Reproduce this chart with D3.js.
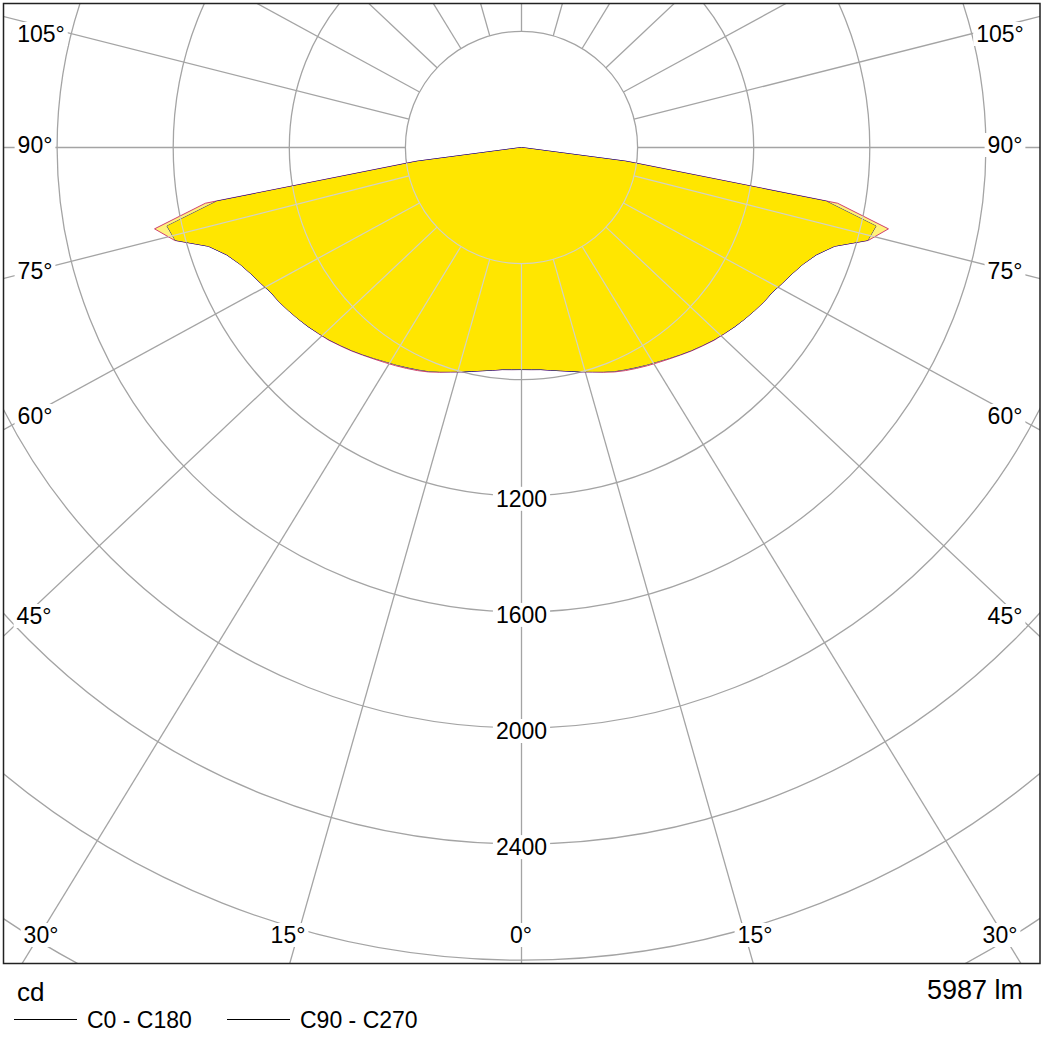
<!DOCTYPE html>
<html><head><meta charset="utf-8">
<script src="https://cdn.jsdelivr.net/npm/d3@7"></script>
<style>body{margin:0;background:#fff} svg text{font-family:"Liberation Sans",Arial,Helvetica,sans-serif;fill:#000}</style>
</head><body><svg id="c" width="1044" height="1038"></svg>
<script>
// ---- data ----
const gammaAngles = [0,2.5,5,7.5,10,12.5,15,17.5,20,22.5,25,27.5,30,32.5,35,37.5,40,42.5,45,47.5,50,52.5,55,57.5,60,62.5,65,67.5,70,72.5,75,77.5,80,82.5,85,87.5,90];
const c0c180  = [765,766,768,774,781,790,800,811,824,837,848,858,868,878,889,901,914,926,939,949,960,970,980,990,998,1013,1029,1050,1081,1131,1237,1295,1106,371,0,0,0];
const c90c270 = [765,766,768,774,781,790,800,810,822,834,844,854,864,874,886,899,912,924,937,948,960,970,980,990,998,1013,1029,1050,1081,1131,1235,1251,1066,361,0,0,0];
const ringValues = [400,800,1200,1600,2000,2400,2800,3200,3600];
const ringLabels = [1200,1600,2000,2400];
const spokeAngles = d3.range(0,360,15);
const angleLabels = ["105°","90°","75°","60°","45°","30°","15°","0°","15°","30°","45°","60°","75°","90°","105°"];
const seriesNames = ["C0 - C180","C90 - C270"];
const unitLabel = "cd";
const fluxLabel = "5987 lm";

// ---- layout ----
const W=1044, H=1038;
const cx=521.5, cy=147.5;
const frame={x0:3.5,y0:3.5,x1:1040,y1:963.5};
const spokeAspect=1.06;
const labelPos=[[41,34],[35,145],[35,271],[35,416],[34,616],[41,935],[288,935],[521,935],[755,935],[1000,935],[1005,616],[1005,416],[1005,271],[1005,145],[1000,34]];

const svg=d3.select("#c");
const r=d3.scaleLinear().domain([0,400]).range([0,116.1]);

svg.append("defs").append("clipPath").attr("id","fr").append("rect")
  .attr("x",frame.x0).attr("y",frame.y0).attr("width",frame.x1-frame.x0).attr("height",frame.y1-frame.y0);

const toPts = vals => {
  const left = gammaAngles.map((g,i)=>({a:Math.PI+g*Math.PI/180, v:vals[i]})).reverse();
  const right = gammaAngles.map((g,i)=>({a:Math.PI-g*Math.PI/180, v:vals[i]}));
  return left.concat(right.slice(1));
};
const radial=d3.lineRadial().angle(d=>d.a).radius(d=>r(d.v)).curve(d3.curveLinearClosed);
const pA=radial(toPts(c0c180)), pB=radial(toPts(c90c270));

const defs=svg.select("defs");
defs.append("clipPath").attr("id","clipB").append("path").attr("d",pB).attr("transform",`translate(${cx},${cy})`);
const uni=defs.append("clipPath").attr("id","clipU");
uni.append("path").attr("d",pA).attr("transform",`translate(${cx},${cy})`);
uni.append("path").attr("d",pB).attr("transform",`translate(${cx},${cy})`);

function drawGrid(g,color,w){
  g.selectAll("circle").data(ringValues).join("circle")
    .attr("cx",cx).attr("cy",cy).attr("r",d=>r(d)).attr("fill","none").attr("stroke",color).attr("stroke-width",w);
  g.selectAll("line").data(spokeAngles).join("line")
    .each(function(s){
      const t=s*Math.PI/180;
      let dx=spokeAspect*Math.sin(t), dy=Math.cos(t);
      const n=Math.hypot(dx,dy); dx/=n; dy/=n;
      d3.select(this).attr("x1",cx+dx*r(400)).attr("y1",cy+dy*r(400))
        .attr("x2",cx+dx*1600).attr("y2",cy+dy*1600);
    })
    .attr("stroke",color).attr("stroke-width",w);
}
const gGrid=svg.append("g").attr("clip-path","url(#fr)");
drawGrid(gGrid,"#a4a4a4",1.3);

const gCurve=svg.append("g").attr("transform",`translate(${cx},${cy})`);
gCurve.append("path").attr("d",pA).attr("fill","#fff27a");
gCurve.append("path").attr("d",pB).attr("fill","#fff27a");
svg.append("g").attr("clip-path","url(#clipB)").append("path").attr("d",pA)
  .attr("transform",`translate(${cx},${cy})`).attr("fill","#ffe600");

const gOver=svg.append("g").attr("clip-path","url(#clipU)");
drawGrid(gOver,"#d2d2c4",1.2);

gCurve.append("path").attr("d",pA).attr("fill","none").attr("stroke","#d04070").attr("stroke-width",1);
gCurve.append("path").attr("d",pB).attr("fill","none").attr("stroke","#202090").attr("stroke-width",1);

// labels with white background
function label(txt,x,y,size){
  const g=svg.append("g");
  const t=g.append("text").attr("x",x).attr("y",y).attr("text-anchor","middle").attr("font-size",size).text(txt);
  const b=t.node().getBBox();
  g.insert("rect","text").attr("x",b.x-3).attr("y",b.y+1).attr("width",b.width+6).attr("height",b.height-2).attr("fill","#fff");
}
ringLabels.forEach(v=>label(String(v),cx,cy+r(v)+11,23));
angleLabels.forEach((t,i)=>label(t,labelPos[i][0],labelPos[i][1]+8,23));

svg.append("rect").attr("x",frame.x0).attr("y",frame.y0).attr("width",frame.x1-frame.x0).attr("height",frame.y1-frame.y0)
  .attr("fill","none").attr("stroke","#222").attr("stroke-width",1.5);

svg.append("text").attr("x",17).attr("y",1001).attr("font-size",26).text(unitLabel);
svg.append("text").attr("x",1023).attr("y",999).attr("font-size",27).attr("text-anchor","end").text(fluxLabel);
const legX=[14,227];
seriesNames.forEach((n,i)=>{
  svg.append("line").attr("x1",legX[i]).attr("x2",legX[i]+63).attr("y1",1019.5).attr("y2",1019.5).attr("stroke","#000").attr("stroke-width",1);
  svg.append("text").attr("x",legX[i]+73).attr("y",1028).attr("font-size",23).text(n);
});
</script></body></html>
